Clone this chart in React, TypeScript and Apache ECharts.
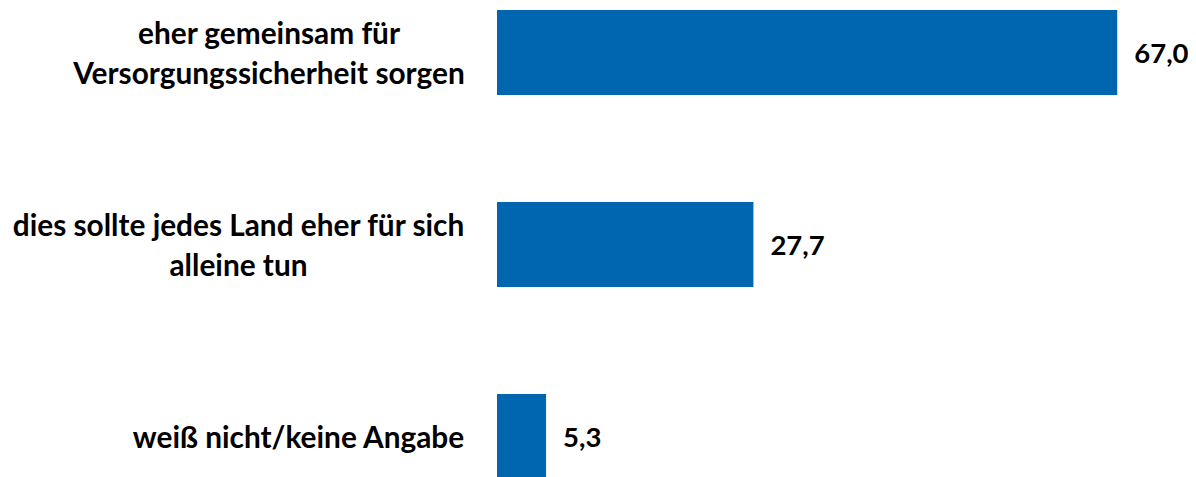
import React, { useEffect, useRef } from "react";
import * as echarts from "echarts";

const categories: string[] = [
  "eher gemeinsam für\nVersorgungssicherheit sorgen",
  "dies sollte jedes Land eher für sich\nalleine tun",
  "weiß nicht/keine Angabe",
];
const values: number[] = [67.0, 27.7, 5.3];

const FONT = "Lato";
const FS = 29.8;
const VFS = 27.5;

function measure(text: string): number {
  const c = document.createElement("canvas");
  const ctx = c.getContext("2d");
  if (!ctx) return text.length * FS * 0.5;
  ctx.font = `bold ${FS}px ${FONT}`;
  return Math.max(...text.split("\n").map((l) => ctx.measureText(l).width));
}

export default function App() {
  const ref = useRef<HTMLDivElement>(null);
  useEffect(() => {
    document.body.style.margin = "0";
    if (!ref.current) return;
    const chart = echarts.init(ref.current, undefined, { renderer: "svg" });
    const rich: Record<string, any> = {};
    categories.forEach((c, i) => {
      rich["c" + i] = {
        width: Math.ceil(measure(c)),
        align: "center",
        fontFamily: FONT,
        fontWeight: "bold",
        fontSize: FS,
        lineHeight: 40,
        color: "#000",
      };
    });
    chart.setOption({
      animation: false,
      grid: { left: 497, right: 51, top: 52.5, bottom: 40.5, containLabel: false },
      xAxis: {
        type: "value",
        min: 0,
        max: 70,
        show: false,
        splitLine: { show: false },
      },
      yAxis: {
        type: "category",
        data: categories,
        inverse: true,
        boundaryGap: false,
        axisLine: { show: false },
        axisTick: { show: false },
        splitLine: { show: false },
        axisLabel: {
          margin: 32,
          align: "right",
          formatter: (v: string, idx: number) =>
            v
              .split("\n")
              .map((l) => `{c${idx}|${l}}`)
              .join("\n"),
          rich,
        },
      },
      series: [
        {
          type: "bar",
          data: values,
          barWidth: 85,
          itemStyle: { color: "#0066B0" },
          label: {
            show: true,
            position: "right",
            distance: 17,
            formatter: (p: any) => p.value.toFixed(1).replace(".", ","),
            fontFamily: FONT,
            fontWeight: "bold",
            fontSize: VFS,
            color: "#000",
          },
        },
      ],
    });
    return () => chart.dispose();
  }, []);
  return <div ref={ref} style={{ width: 1196, height: 477 }} />;
}
